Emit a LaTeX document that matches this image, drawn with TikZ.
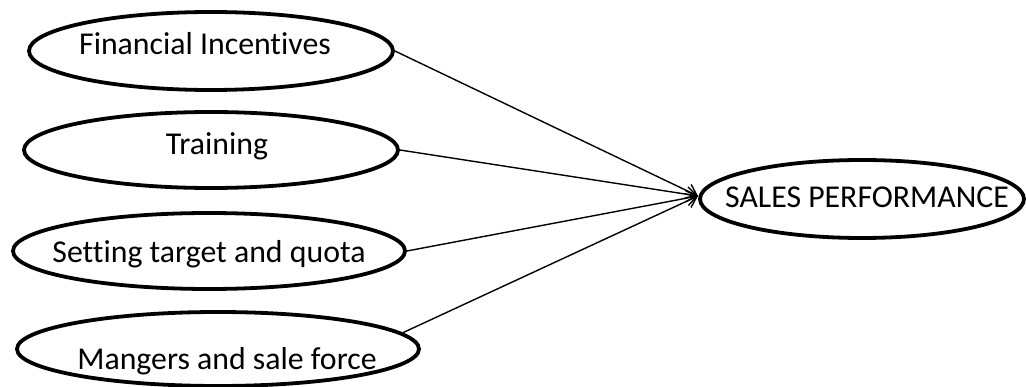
\documentclass[tikz,border=0pt]{standalone}
\usepackage{fontspec}
\setmainfont[RawFeature={-liga;-dlig;-clig}]{Carlito}
\usetikzlibrary{shapes.geometric,arrows.meta}
\begin{document}
\begin{tikzpicture}[x=1pt,y=-1pt,
  oval/.style={draw=black,line width=3.8pt,ellipse,inner sep=0pt},
  lbl/.style={anchor=base,inner sep=0pt,font=\fontsize{31.8}{36}\selectfont},
  link/.style={line width=1.4pt,-{Straight Barb[length=10pt,width=15pt,line width=1.4pt]}}]
\useasboundingbox (0,0) rectangle (1026,387);
\node[oval,minimum width=364pt,minimum height=78pt] (e1) at (211,51) {};
\node[oval,minimum width=374pt,minimum height=76pt] (e2) at (211,150) {};
\node[oval,minimum width=392pt,minimum height=76pt] (e3) at (209,251) {};
\node[oval,minimum width=402pt,minimum height=74pt] (e4) at (218,349) {};
\node[oval,minimum width=324pt,minimum height=78pt] (e5) at (862,199) {};
\node[lbl] (t1) at (205,55) {Financial Incentives};
\node[lbl] (t2) at (217,155) {Training};
\node[lbl] (t3) at (209,263) {Setting target and quota};
\node[lbl] (t4) at (227,370) {Mangers and sale force};
\node[lbl] (t5) at (867,208) {SALES PERFORMANCE};
\coordinate (tip) at (698,196);
\draw[link] (e1.east) -- (tip);
\draw[link] (e2.east) -- (tip);
\draw[link] (e3.east) -- (tip);
\draw[link] (e4.5) -- (tip);
\end{tikzpicture}
\end{document}
